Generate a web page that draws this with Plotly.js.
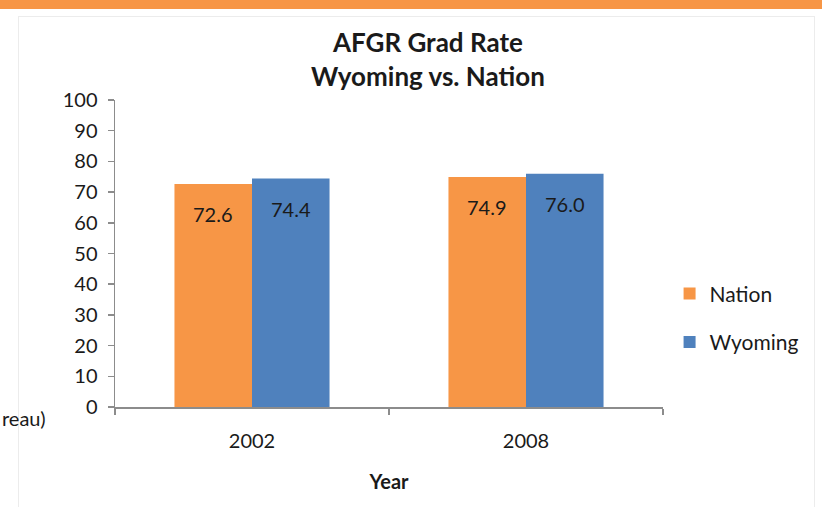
<!DOCTYPE html>
<html>
<head>
<meta charset="utf-8">
<script src="https://cdn.plot.ly/plotly-3.0.1.min.js"></script>
<style>
  html, body { margin: 0; padding: 0; background: #ffffff; }
  #wrap { position: relative; width: 822px; height: 507px; overflow: hidden; }
  #strip { position: absolute; left: 0; top: 0; width: 822px; height: 9px; background: #F79646; }
  #frame { position: absolute; left: 18px; top: 16px; width: 797px; height: 500px; border: 1px solid #ececec; box-sizing: border-box; }
  #chart { position: absolute; left: 0; top: 0; width: 822px; height: 507px; }
</style>
</head>
<body>
<div id="wrap">
  <div id="strip"></div>
  <div id="frame"></div>
  <div id="chart"></div>
</div>
<script>
const years = ['2002', '2008'];
const nation = [72.6, 74.9];
const wyoming = [74.4, 76.0];
const seriesNames = ['Nation', 'Wyoming'];
const yTicks = [0, 10, 20, 30, 40, 50, 60, 70, 80, 90, 100];

const FONT = 'Lato, "Open Sans", sans-serif';
const TXT = '#1a1a1a';

const traces = [
  { type: 'bar', name: seriesNames[0], x: years, y: nation, marker: { color: '#F79646' }, legendgroup: 'a', hoverinfo: 'skip' },
  { type: 'bar', name: seriesNames[1], x: years, y: wyoming, marker: { color: '#4F81BD' }, legendgroup: 'b', hoverinfo: 'skip' }
];

const annotations = [];
[nation, wyoming].forEach((vals, si) => {
  vals.forEach((v, i) => {
    annotations.push({
      x: i, y: v, xref: 'x', yref: 'y',
      text: v.toFixed(1), showarrow: false,
      xshift: si === 0 ? -39 : 39, yshift: -30,
      font: { family: FONT, size: 20, color: TXT }
    });
  });
});
annotations.push({
  x: -0.1223, y: -0.036, xref: 'paper', yref: 'paper', xanchor: 'right', yanchor: 'middle',
  text: 'reau)', showarrow: false, font: { family: FONT, size: 20, color: TXT }
});

const layout = {
  width: 822, height: 507,
  margin: { l: 115, r: 159, t: 100, b: 100 },
  paper_bgcolor: 'rgba(0,0,0,0)', plot_bgcolor: 'rgba(0,0,0,0)',
  font: { family: FONT, color: TXT },
  title: {
    text: '<b>AFGR Grad Rate<br>Wyoming vs. Nation</b>',
    x: 0.571, xref: 'paper', xanchor: 'center',
    y: 0.897, yref: 'container', yanchor: 'top',
    font: { family: FONT, size: 26, color: TXT }
  },
  barmode: 'group', bargap: 0.434, bargroupgap: 0,
  xaxis: {
    type: 'category', autotypenumbers: 'strict',
    range: [-0.5, 1.5], autorange: false,
    showline: true, linecolor: '#8c8c8c', linewidth: 1.5,
    ticks: 'outside', tickson: 'boundaries', ticklen: 6, tickcolor: '#8c8c8c', tickwidth: 1.5,
    tickfont: { family: FONT, size: 20, color: TXT },
    ticklabelstandoff: 15, tickangle: 0,
    showgrid: false, zeroline: false,
    title: { text: '<b>Year</b>', font: { family: FONT, size: 20, color: TXT }, standoff: 24 }
  },
  yaxis: {
    range: [0, 100], autorange: false, tickvals: yTicks,
    showline: true, linecolor: '#8c8c8c', linewidth: 1.5,
    ticks: 'outside', ticklen: 6, tickcolor: '#8c8c8c', tickwidth: 1.5,
    tickfont: { family: FONT, size: 20, color: TXT },
    ticklabelstandoff: 6,
    showgrid: false, zeroline: false
  },
  legend: {
    x: 1.012, xanchor: 'left', y: 0.29, yanchor: 'middle',
    font: { family: FONT, size: 21, color: TXT },
    traceorder: 'grouped', tracegroupgap: 18,
    bgcolor: 'rgba(0,0,0,0)'
  },
  annotations: annotations,
  showlegend: true
};

Plotly.newPlot('chart', traces, layout, { displayModeBar: false, staticPlot: true });
</script>
</body>
</html>
